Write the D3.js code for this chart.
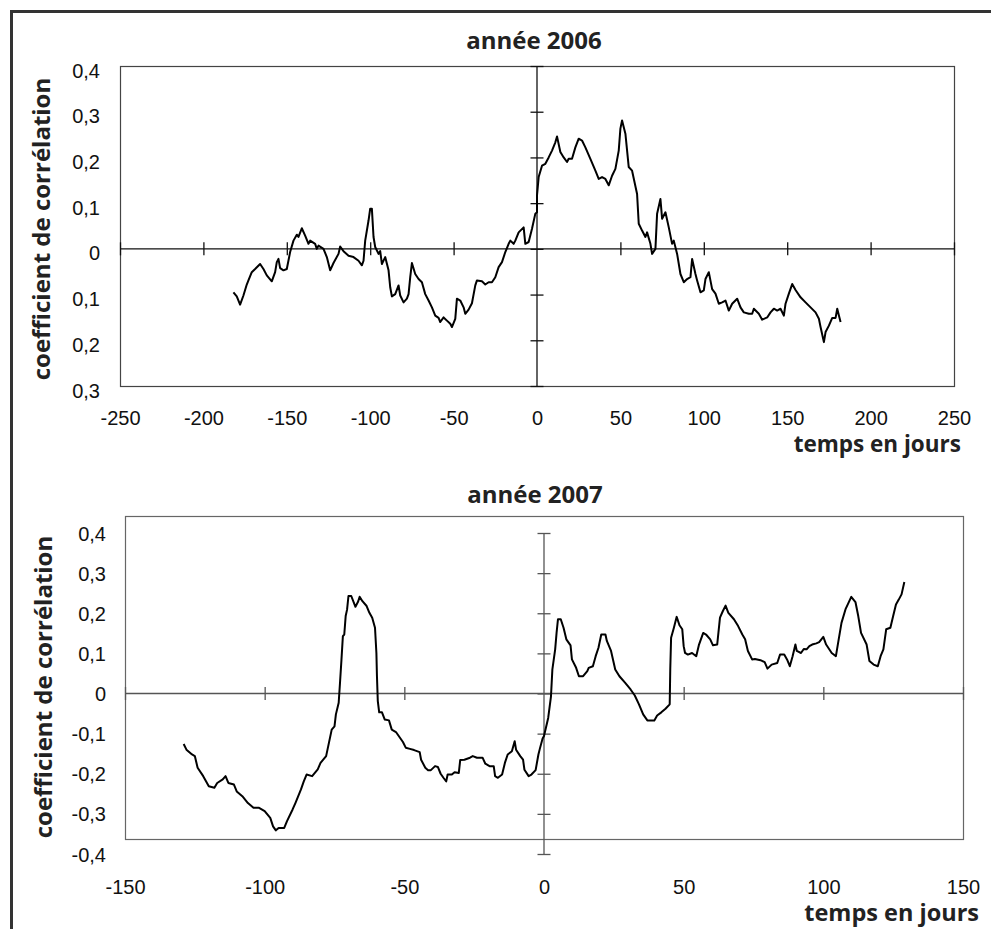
<!DOCTYPE html>
<html>
<head>
<meta charset="utf-8">
<script src="https://cdn.jsdelivr.net/npm/d3@7"></script>
<style>
  body { margin: 0; background: #fff; }
</style>
</head>
<body>
<div id="container"></div>
<script>
// année 2006 : décalage en jours / coefficient de corrélation
let days2006 = [-182,-180,-178,-176,-174,-173,-171,-169,-166,-164,-162,-159,-157,-156,-155,-154,-152,-150,-148,-146,
  -144,-143,-141,-139,-137,-136,-133,-132,-131,-128,-126,-124,-122,-119,-118,-116,-113,-110,-107,-105,
  -104,-103,-101,-100,-99,-98,-97,-95,-94,-93,-91,-89,-88,-87,-85,-83,-82,-80,-78,-77,
  -76,-75,-73,-71,-69,-67,-65,-63,-61,-59,-58,-56,-54,-52,-51,-49,-48,-46,-44,-43,
  -41,-39,-37,-36,-33,-31,-29,-27,-25,-23,-21,-19,-17,-16,-14,-13,-11,-8,-7,-5,
  -3,-1,0,0,1,3,5,7,9,11,12,14,16,18,19,21,23,25,27,29,
  32,35,37,39,41,43,45,47,49,50,51,53,55,57,60,61,63,65,66,68,
  69,71,72,74,75,77,79,81,82,84,86,88,90,92,93,95,96,98,100,101,
  103,105,107,109,111,113,115,117,120,122,124,127,129,130,133,135,138,140,142,144,
  146,148,149,151,153,155,158,161,164,167,169,170,172,173,175,177,179,180,181,182];
let corr2006 = [-0.095,-0.104,-0.122,-0.102,-0.078,-0.069,-0.051,-0.044,-0.033,-0.044,-0.058,-0.071,-0.051,-0.029,-0.022,-0.042,-0.047,-0.044,-0.007,0.018,
  0.031,0.026,0.045,0.029,0.011,0.018,0.011,0,0.007,0,-0.018,-0.047,-0.031,-0.011,0.005,-0.005,-0.015,-0.018,-0.026,-0.036,
  -0.026,0.018,0.062,0.088,0.088,0.026,0.004,-0.011,-0.005,-0.033,-0.018,-0.047,-0.084,-0.104,-0.099,-0.080,-0.102,-0.117,-0.109,-0.099,
  -0.062,-0.031,-0.055,-0.066,-0.073,-0.099,-0.113,-0.128,-0.146,-0.151,-0.160,-0.150,-0.157,-0.164,-0.171,-0.153,-0.109,-0.113,-0.128,-0.142,
  -0.133,-0.119,-0.080,-0.069,-0.071,-0.078,-0.073,-0.073,-0.062,-0.040,-0.029,-0.007,0.011,0.018,0.011,0.018,0.036,0.047,0.011,0.015,
  0.044,0.077,0.080,0.117,0.157,0.182,0.186,0.200,0.215,0.233,0.246,0.212,0.200,0.190,0.197,0.197,0.222,0.241,0.237,0.222,
  0.197,0.171,0.153,0.157,0.153,0.139,0.160,0.175,0.215,0.263,0.281,0.252,0.179,0.171,0.120,0.055,0.040,0.026,0.036,0.011,
  -0.011,0,0.077,0.109,0.066,0.080,0.047,0.011,0.018,-0.011,-0.055,-0.073,-0.066,-0.062,-0.022,-0.055,-0.069,-0.095,-0.091,-0.066,
  -0.051,-0.088,-0.098,-0.120,-0.117,-0.113,-0.135,-0.120,-0.109,-0.128,-0.139,-0.142,-0.142,-0.131,-0.142,-0.155,-0.150,-0.139,-0.131,-0.135,
  -0.131,-0.146,-0.120,-0.098,-0.077,-0.090,-0.106,-0.117,-0.128,-0.139,-0.153,-0.171,-0.204,-0.182,-0.168,-0.151,-0.151,-0.131,-0.146,-0.160];

// année 2007
let days2007 = [-129,-128,-126,-125,-124,-122,-120,-118,-117,-115,-114,-113,-111,-110,-108,-106,-104,-102,-100,-98,
  -97,-96,-95,-93,-92,-90,-89,-87,-86,-85,-83,-81,-80,-78,-77,-76,-75,-74.5,-73.5,-73,
  -72.5,-72,-71.5,-71,-70.5,-70,-69,-67.5,-66.5,-66,-65,-63.5,-62.5,-61.5,-60.5,-60,-59.8,-59.5,-59,-58,
  -57,-55.5,-54.5,-53,-51.5,-50.5,-49.5,-48,-46.5,-44.5,-44,-42.5,-41.5,-40.5,-39,-38,-37,-36,-35,-34.5,
  -33,-32,-30.5,-30,-28.5,-26.5,-25.5,-24,-22,-21,-19.5,-18,-17.5,-16.5,-15,-14,-13,-11.5,-10.5,-10,
  -8.5,-7.5,-7,-5.5,-4.5,-3,-2,-1.5,-0.5,0,1.5,2.5,3,4,4.5,5,6,7,8,9.5,
  10,11.5,12.5,14,15.5,16,17.5,18.5,19.5,20.5,22,22.5,24,25.5,27,29,31,32.5,34,35.5,
  37,39.5,40.5,42,43.5,45,45.2,45.5,46.5,47.5,48.5,49.5,50,50.5,51.5,53,54.5,55.5,57,58,
  59.5,60.5,62,63,64,65,66,68,69.5,71,72,73,74.5,75.5,77.5,79,80,81.5,83.5,84.5,
  86,87,88,89,90,90.5,92,93,94,95,96,97.5,98.5,100,101,103,104.5,105.5,106.5,108,
  109,110,111.5,112.5,113.5,115.5,116.5,118,119.5,120.5,121.5,122.5,124,125,126,127,128,129];
let corr2007 = [-0.126,-0.140,-0.152,-0.156,-0.185,-0.206,-0.231,-0.235,-0.223,-0.214,-0.206,-0.223,-0.227,-0.244,-0.256,-0.273,-0.285,-0.285,-0.293,-0.310,
  -0.331,-0.341,-0.335,-0.335,-0.318,-0.289,-0.273,-0.239,-0.219,-0.202,-0.206,-0.189,-0.173,-0.156,-0.123,-0.090,-0.082,-0.052,-0.023,0.030,
  0.085,0.143,0.147,0.193,0.209,0.243,0.243,0.216,0.230,0.241,0.230,0.218,0.201,0.189,0.164,0.101,0.043,-0.019,-0.047,-0.047,
  -0.065,-0.067,-0.090,-0.096,-0.111,-0.121,-0.135,-0.138,-0.141,-0.146,-0.165,-0.185,-0.191,-0.191,-0.181,-0.183,-0.200,-0.210,-0.219,-0.202,
  -0.202,-0.196,-0.198,-0.166,-0.165,-0.160,-0.156,-0.160,-0.160,-0.175,-0.181,-0.181,-0.206,-0.210,-0.202,-0.173,-0.152,-0.144,-0.119,-0.140,
  -0.156,-0.165,-0.190,-0.206,-0.202,-0.191,-0.152,-0.138,-0.112,-0.106,-0.061,-0.007,0.060,0.110,0.151,0.185,0.185,0.164,0.135,0.120,
  0.085,0.064,0.043,0.043,0.056,0.064,0.068,0.093,0.114,0.147,0.147,0.131,0.106,0.060,0.043,0.027,0.010,-0.005,-0.027,-0.052,
  -0.067,-0.067,-0.055,-0.047,-0.038,-0.027,0.060,0.139,0.164,0.191,0.170,0.160,0.118,0.101,0.097,0.101,0.093,0.122,0.151,0.147,
  0.135,0.120,0.122,0.189,0.205,0.219,0.201,0.185,0.168,0.147,0.135,0.106,0.085,0.086,0.083,0.078,0.062,0.072,0.076,0.097,
  0.097,0.085,0.068,0.093,0.122,0.106,0.101,0.111,0.110,0.118,0.122,0.125,0.128,0.141,0.122,0.101,0.093,0.135,0.176,0.211,
  0.226,0.241,0.228,0.193,0.151,0.122,0.081,0.072,0.068,0.093,0.110,0.160,0.164,0.193,0.222,0.234,0.247,0.278];

// ticks
let xTicks2006 = [-250,-200,-150,-100,-50,0,50,100,150,200,250];
let yTicks2006 = [0.4,0.3,0.2,0.1,0,-0.1,-0.2,-0.3];
let yLabels2006 = ["0,4","0,3","0,2","0,1","0","0,1","0,2","0,3"];
let xTicks2007 = [-150,-100,-50,0,50,100,150];
let yTicks2007 = [0.4,0.3,0.2,0.1,0,-0.1,-0.2,-0.3,-0.4];
let yLabels2007 = ["0,4","0,3","0,2","0,1","0","-0,1","-0,2","-0,3","-0,4"];

let w = 991;
let h = 929;
let viz = d3.select("#container")
  .append("svg")
    .attr("width", w)
    .attr("height", h)
    .style("display", "block")
;

// cadre extérieur (bords droit et bas hors image)
viz.append("rect")
  .attr("x", 11.5).attr("y", 11.5)
  .attr("width", 1000).attr("height", 1000)
  .attr("fill", "none")
  .attr("stroke", "#333")
  .attr("stroke-width", 3)
;

function drawPanel(opt){
  let g = viz.append("g");
  let x = d3.scaleLinear().domain(opt.xDomain).range([opt.left, opt.right]);
  let y = d3.scaleLinear().domain(opt.yDomain).range([opt.yBottom, opt.yTop]);
  let x0 = x(0), y0 = y(0);

  // zone de tracé
  g.append("rect")
    .attr("x", opt.left + 0.5).attr("y", opt.frameTop + 0.5)
    .attr("width", opt.right - opt.left).attr("height", opt.frameBottom - opt.frameTop)
    .attr("fill", "none")
    .attr("stroke", opt.frameColor)
    .attr("stroke-width", 1.2)
  ;

  // axe horizontal (y = 0) avec graduations croisées
  g.append("line")
    .attr("x1", opt.left).attr("x2", opt.right)
    .attr("y1", y0).attr("y2", y0)
    .attr("stroke", opt.axisColor).attr("stroke-width", 1.3)
  ;
  let xTickAxis = d3.axisBottom(x).tickValues(opt.xTicks.filter(d => d !== 0))
    .tickSize(13).tickFormat("");
  g.append("g")
    .attr("transform", "translate(0," + (y0 - 6.5) + ")")
    .call(xTickAxis)
    .call(s => s.select(".domain").remove())
    .call(s => s.selectAll("line").attr("stroke", opt.axisColor).attr("stroke-width", 1.3))
  ;

  // axe vertical (x = 0)
  g.append("line")
    .attr("x1", x0).attr("x2", x0)
    .attr("y1", y(opt.yDomain[1])).attr("y2", y(opt.yDomain[0]))
    .attr("stroke", opt.axisColor).attr("stroke-width", 1.3)
  ;
  let yTickAxis = d3.axisLeft(y).tickValues(opt.yTicks).tickSize(13).tickFormat("");
  g.append("g")
    .attr("transform", "translate(" + (x0 + 6.5) + ",0)")
    .call(yTickAxis)
    .call(s => s.select(".domain").remove())
    .call(s => s.selectAll("line").attr("stroke", opt.axisColor).attr("stroke-width", 1.3))
  ;

  // étiquettes des graduations
  let yLab = d3.axisLeft(y).tickValues(opt.yTicks).tickSize(0).tickPadding(0)
    .tickFormat((d, i) => opt.yLabels[i]);
  g.append("g")
    .attr("transform", "translate(" + opt.yLabelX + ",0)")
    .call(yLab)
    .call(s => s.select(".domain").remove())
    .call(s => s.selectAll("text")
      .attr("font-family", "'Liberation Sans', Arial, sans-serif")
      .attr("font-size", 20)
      .attr("fill", "#111")
      .attr("dy", "0.35em")
      .attr("y", opt.yLabelShift))
  ;
  let xLab = d3.axisBottom(x).tickValues(opt.xTicks).tickSize(0).tickPadding(0)
    .tickFormat(d => String(d));
  g.append("g")
    .attr("transform", "translate(0," + opt.xLabelY + ")")
    .call(xLab)
    .call(s => s.select(".domain").remove())
    .call(s => s.selectAll("text")
      .attr("font-family", "'Liberation Sans', Arial, sans-serif")
      .attr("font-size", 20)
      .attr("fill", "#111")
      .attr("y", 0)
      .attr("dy", "0.35em"))
  ;

  // courbe
  let lineMaker = d3.line()
    .x(function(d, i){ return x(opt.days[i]); })
    .y(function(d, i){ return y(opt.corr[i]); })
  ;
  g.append("path")
    .datum(opt.corr)
    .attr("d", lineMaker)
    .attr("fill", "none")
    .attr("stroke", "#000")
    .attr("stroke-width", 2)
    .attr("stroke-linejoin", "round")
  ;

  // titres
  g.append("text")
    .attr("x", opt.titleX).attr("y", opt.titleY)
    .attr("text-anchor", "middle")
    .attr("font-family", "'Open Sans', sans-serif")
    .attr("font-weight", 700)
    .attr("font-size", 24)
    .attr("fill", "#222")
    .text(opt.title)
  ;
  g.append("text")
    .attr("x", opt.xTitleX).attr("y", opt.xTitleY)
    .attr("text-anchor", "end")
    .attr("font-family", "'Open Sans', sans-serif")
    .attr("font-weight", 700)
    .attr("font-size", opt.xTitleSize)
    .attr("fill", "#222")
    .text("temps en jours")
  ;
  g.append("text")
    .attr("transform", "translate(" + opt.yTitleX + "," + opt.yTitleY + ") rotate(-90)")
    .attr("text-anchor", "middle")
    .attr("font-family", "'Open Sans', sans-serif")
    .attr("font-weight", 700)
    .attr("font-size", 24)
    .attr("fill", "#222")
    .text("coefficient de corrélation")
  ;
}

drawPanel({
  days: days2006, corr: corr2006,
  xDomain: [-250, 250], yDomain: [-0.3, 0.4],
  left: 120, right: 954, yTop: 66, yBottom: 386,
  frameTop: 66, frameBottom: 386,
  xTicks: xTicks2006, yTicks: yTicks2006, yLabels: yLabels2006,
  yLabelX: 100, yLabelShift: 4, xLabelY: 418,
  frameColor: "#444", axisColor: "#111",
  title: "année 2006", titleX: 534, titleY: 49,
  xTitleX: 961, xTitleY: 452, xTitleSize: 22.5,
  yTitleX: 50, yTitleY: 229
});

drawPanel({
  days: days2007, corr: corr2007,
  xDomain: [-150, 150], yDomain: [-0.4, 0.4],
  left: 125, right: 963, yTop: 533, yBottom: 854,
  frameTop: 516, frameBottom: 839,
  xTicks: xTicks2007, yTicks: yTicks2007, yLabels: yLabels2007,
  yLabelX: 106, yLabelShift: 0, xLabelY: 887,
  frameColor: "#666", axisColor: "#555",
  title: "année 2007", titleX: 535, titleY: 503,
  xTitleX: 979, xTitleY: 921, xTitleSize: 23.5,
  yTitleX: 52, yTitleY: 687
});
</script>
</body>
</html>
